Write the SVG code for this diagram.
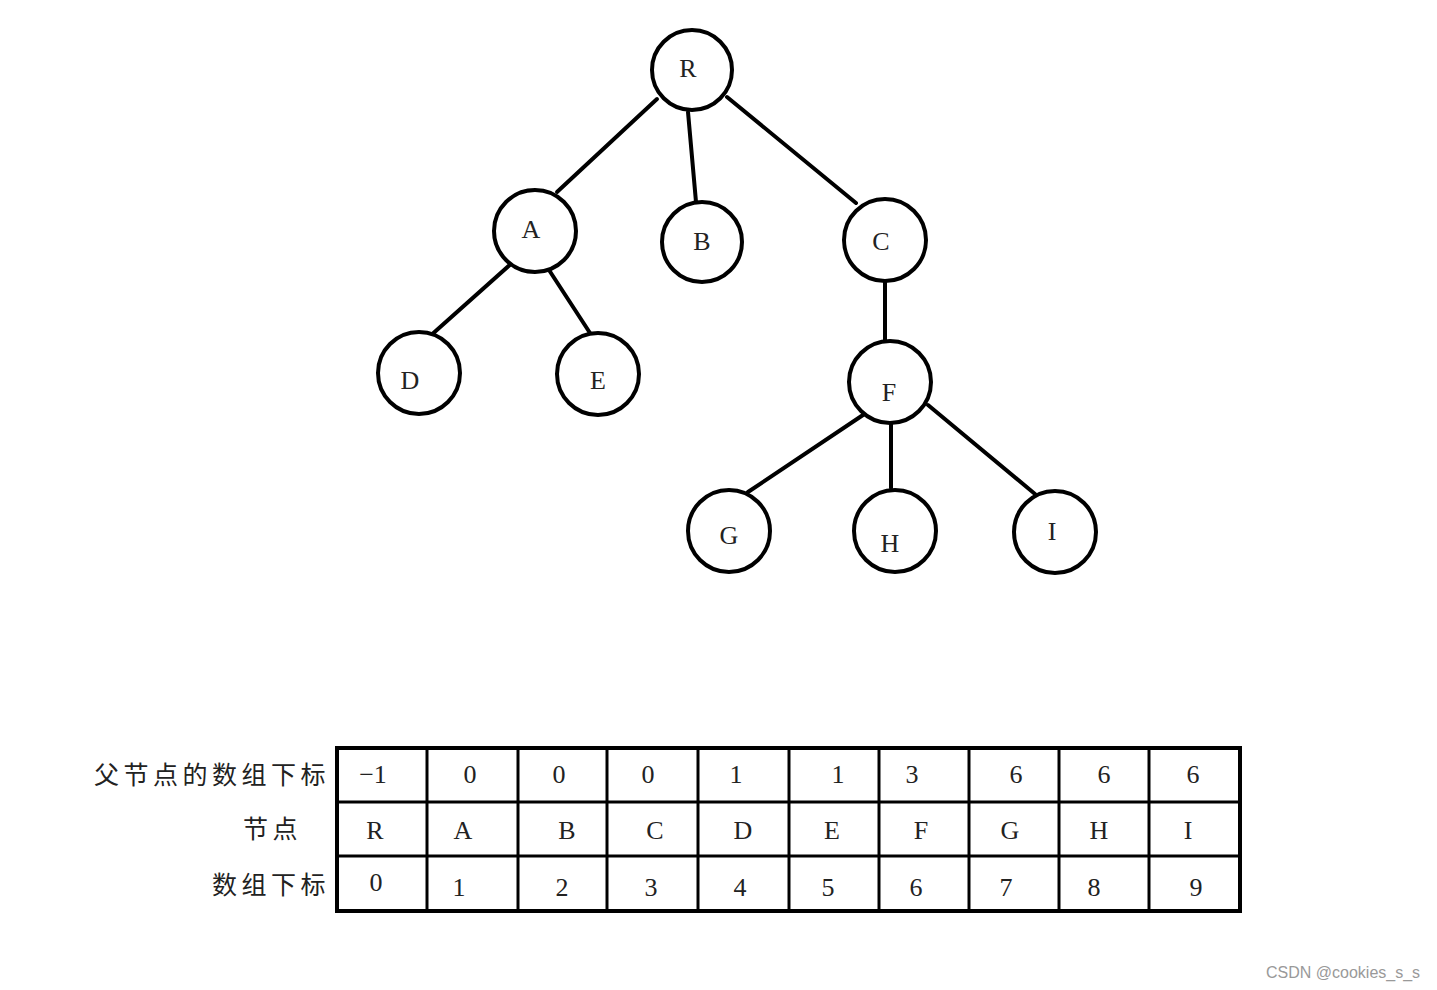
<svg xmlns="http://www.w3.org/2000/svg" width="1437" height="990" viewBox="0 0 1437 990">
<style>
.node circle{fill:#fff;stroke:#000;stroke-width:4}
.lbl{font-family:"Liberation Serif",serif;font-size:26px;fill:#222;text-anchor:middle}
.edges line{stroke:#000;stroke-width:4;stroke-linecap:round}
.grid line{stroke:#000;stroke-width:3}
.cjk{font-family:"Noto Sans CJK SC",sans-serif;font-size:25px;fill:#222;letter-spacing:4.5px;text-anchor:end}
.wm{font-family:"Liberation Sans",sans-serif;font-size:16px;fill:#999}
</style>
<rect width="1437" height="990" fill="#fff"/>
<g class="edges">
<line x1="657" y1="99" x2="557" y2="192"/>
<line x1="688" y1="112" x2="696" y2="202"/>
<line x1="727" y1="97" x2="856" y2="203"/>
<line x1="512" y1="263" x2="429" y2="337"/>
<line x1="549" y1="270" x2="590" y2="333"/>
<line x1="885" y1="282" x2="885" y2="343"/>
<line x1="866" y1="413" x2="748" y2="492"/>
<line x1="891" y1="418" x2="891" y2="488"/>
<line x1="928" y1="405" x2="1035" y2="494"/>
</g>
<g id="node-R" class="node"><circle cx="692" cy="70" r="40"/><text class="lbl" x="688" y="77">R</text></g>
<g id="node-A" class="node"><circle cx="535" cy="231" r="41"/><text class="lbl" x="531" y="238">A</text></g>
<g id="node-B" class="node"><circle cx="702" cy="242" r="40"/><text class="lbl" x="702" y="250">B</text></g>
<g id="node-C" class="node"><circle cx="885" cy="240" r="41"/><text class="lbl" x="881" y="250">C</text></g>
<g id="node-D" class="node"><circle cx="419" cy="373" r="41"/><text class="lbl" x="410" y="389">D</text></g>
<g id="node-E" class="node"><circle cx="598" cy="374" r="41"/><text class="lbl" x="598" y="389">E</text></g>
<g id="node-F" class="node"><circle cx="890" cy="382" r="41"/><text class="lbl" x="889" y="401">F</text></g>
<g id="node-G" class="node"><circle cx="729" cy="531" r="41"/><text class="lbl" x="729" y="544">G</text></g>
<g id="node-H" class="node"><circle cx="895" cy="531" r="41"/><text class="lbl" x="890" y="552">H</text></g>
<g id="node-I" class="node"><circle cx="1055" cy="532" r="41"/><text class="lbl" x="1052" y="540">I</text></g>
<g id="table">
<rect x="337" y="748" width="903" height="163" fill="#fff" stroke="#000" stroke-width="4"/>
<g class="grid">
<line x1="337" y1="802" x2="1240" y2="802"/>
<line x1="337" y1="856" x2="1240" y2="856"/>
<line x1="427" y1="748" x2="427" y2="911"/>
<line x1="518" y1="748" x2="518" y2="911"/>
<line x1="607" y1="748" x2="607" y2="911"/>
<line x1="698" y1="748" x2="698" y2="911"/>
<line x1="789" y1="748" x2="789" y2="911"/>
<line x1="879" y1="748" x2="879" y2="911"/>
<line x1="969" y1="748" x2="969" y2="911"/>
<line x1="1059" y1="748" x2="1059" y2="911"/>
<line x1="1149" y1="748" x2="1149" y2="911"/>
</g>
<text class="lbl" x="373" y="783">−1</text>
<text class="lbl" x="470" y="783">0</text>
<text class="lbl" x="559" y="783">0</text>
<text class="lbl" x="648" y="783">0</text>
<text class="lbl" x="736" y="783">1</text>
<text class="lbl" x="838" y="783">1</text>
<text class="lbl" x="912" y="783">3</text>
<text class="lbl" x="1016" y="783">6</text>
<text class="lbl" x="1104" y="783">6</text>
<text class="lbl" x="1193" y="783">6</text>
<text class="lbl" x="375" y="839">R</text>
<text class="lbl" x="463" y="839">A</text>
<text class="lbl" x="567" y="839">B</text>
<text class="lbl" x="655" y="839">C</text>
<text class="lbl" x="743" y="839">D</text>
<text class="lbl" x="832" y="839">E</text>
<text class="lbl" x="921" y="839">F</text>
<text class="lbl" x="1010" y="839">G</text>
<text class="lbl" x="1099" y="839">H</text>
<text class="lbl" x="1188" y="839">I</text>
<text class="lbl" x="376" y="891">0</text>
<text class="lbl" x="459" y="896">1</text>
<text class="lbl" x="562" y="896">2</text>
<text class="lbl" x="651" y="896">3</text>
<text class="lbl" x="740" y="896">4</text>
<text class="lbl" x="828" y="896">5</text>
<text class="lbl" x="916" y="896">6</text>
<text class="lbl" x="1006" y="896">7</text>
<text class="lbl" x="1094" y="896">8</text>
<text class="lbl" x="1196" y="896">9</text>
</g>
<g id="row-labels">
<text class="cjk" x="330" y="784">父节点的数组下标</text>
<text class="cjk" x="302" y="838" letter-spacing="8">节点</text>
<text class="cjk" x="330" y="894">数组下标</text>
</g>
<text class="wm" x="1266" y="978">CSDN @cookies_s_s</text>
</svg>
